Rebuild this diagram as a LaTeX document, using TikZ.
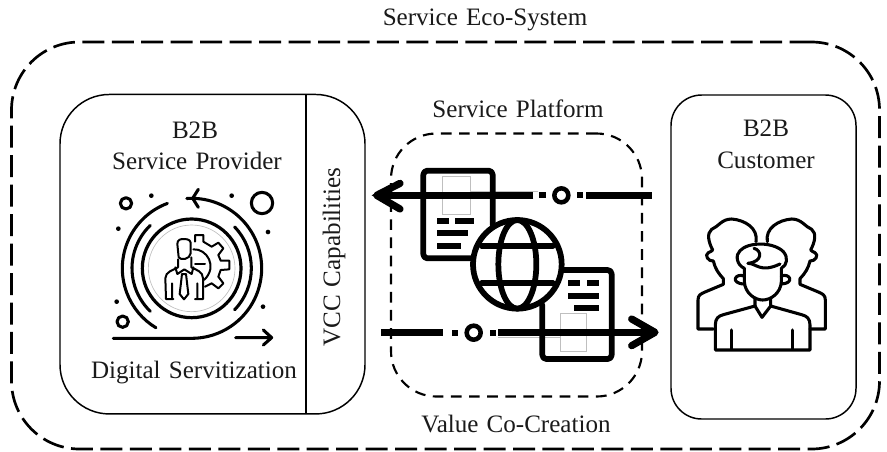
\documentclass[tikz,border=0pt]{standalone}
\usepackage{fontspec}
\setmainfont[WordSpace=1.3]{Liberation Serif}
\usetikzlibrary{calc}
\definecolor{ink}{HTML}{1A1A1A}
\tikzset{
  lab/.style={inner sep=0pt,text=ink,font=\fontsize{18.8}{22}\selectfont},
  outerdash/.style={draw=black,line width=2pt,rounded corners=51pt,dash pattern=on 16.5pt off 5.6pt,minimum width=651pt,minimum height=305.25pt,inner sep=0pt},
  middash/.style={draw=black,line width=1.6pt,rounded corners=34pt,dash pattern=on 8pt off 5.6pt,minimum width=188.25pt,minimum height=197.25pt,inner sep=0pt},
  solidbox/.style={draw=black,line width=1.1pt,inner sep=0pt},
  ico/.style={line width=2.3pt,line cap=round,line join=round},
  icothin/.style={line width=1.5pt,line cap=round,line join=round},
  pers/.style={line width=2.3pt,line cap=round,line join=round},
  heavy/.style={line width=5.4pt,line cap=butt,line join=round},
  docline/.style={line width=4.3pt,line cap=round,line join=round},
  ghost/.style={line width=.5pt,draw=black!25},
  zoomA/.style={shift={(90,170)},x=.25pt,y=-.25pt},
  zoomB/.style={shift={(370,150)},x=.25pt,y=-.25pt},
  zoomC/.style={shift={(680,200)},x=.25pt,y=-.25pt},
}
\begin{document}
\begin{tikzpicture}[x=.75pt,y=-.75pt]
\useasboundingbox (0,0) rectangle (887,451);
% containers
\node[outerdash] (eco) at (445.5,245.5) {};
\node[middash] (platform) at (516.5,265) {};
\node[solidbox,rounded corners=37pt,minimum width=228.75pt,minimum height=239.6pt] (provider) at (212.5,254.2) {};
\node[solidbox,rounded corners=23pt,minimum width=138.75pt,minimum height=243pt] (customer) at (763.5,257) {};
\coordinate (divT) at (306,94.5);
\coordinate (divB) at (306,414);
\draw[line width=1.1pt] (divT) -- (divB);
% labels
\node[lab] (tEco) at (485,20) {Service Eco-System};
\node[lab] (tPlat) at (518,108.5) {Service Platform};
\node[lab] (tVal) at (516,424) {Value Co-Creation};
\node[lab] (tB1) at (195,130) {B2B};
\node[lab] (tSP) at (197,160.5) {Service Provider};
\node[lab] (tDS) at (194,372.5) {Digital Servitization};
\node[lab,rotate=90] (tVCC) at (334,257) {VCC Capabilities};
\node[lab] (tB2) at (766,128) {B2B};
\node[lab] (tCu) at (766,160.5) {Customer};
% servitization icon
\begin{scope}[zoomA]
  \coordinate (c) at (305,295);
  \draw[ghost] (c) circle (130);
  \draw[ico,line width=2.4pt] (c) circle (148);
  \draw[ico] ([shift={(-94:210)}]c) arc[start angle=-94,end angle=90,radius=210] -- (70,505);
  \draw[ico] (325,58) -- (308,85) -- (325,112);
  \draw[ico] ([shift={(249.5:208)}]c) arc[start angle=249.5,end angle=121,radius=208];
  \draw[ico] ([shift={(226:179)}]c) arc[start angle=226,end angle=134,radius=179];
  \draw[ico] ([shift={(-44:179)}]c) arc[start angle=-44,end angle=44,radius=179];
  \draw[ico] (437,503) -- (545,503) (520,480) -- (545,503) -- (520,525);
  \draw[ico] (108,100) circle (17) (516,99) circle (32) (98,455) circle (17);
  \foreach \px/\py in {184/77,425/77,85/176,534/186,80/395,519/410}
    \fill (\px,\py) circle (7);
  \draw[icothin] (315,215) -- (315,195) -- (340,195) -- (340,215) -- (365,230) -- (385,218) -- (400,235) -- (385,255) -- (392,272) -- (418,272) -- (418,298) -- (392,300) -- (385,320) -- (400,340) -- (385,355) -- (365,340) -- (345,350);
  \draw[icothin] (310,238) .. controls (350,235) and (385,290) .. (342,330);
  \draw[icothin] (315,281) -- (345,281);
  \draw[icothin] (266,262) -- (262,222) .. controls (262,208) and (272,207) .. (282,207) .. controls (298,207) and (303,212) .. (302,225) -- (302,250) .. controls (300,268) and (272,272) .. (266,262);
  \draw[icothin] (264,268) -- (264,292) .. controls (250,300) and (226,305) .. (226,325) -- (228,387) -- (250,387) (246,340) -- (246,387);
  \draw[icothin] (304,262) -- (304,292) .. controls (320,300) and (339,305) .. (339,325) -- (339,387) -- (315,387) (322,340) -- (322,387);
  \draw[icothin] (256,292) -- (262,312) -- (283,298) -- (305,312) -- (310,292);
  \draw[icothin] (276,312) -- (269,372) -- (282,388) -- (295,372) -- (288,312) -- cycle;
\end{scope}
% platform icon
\begin{scope}[zoomB]
  \draw[ghost] (218,80) rectangle (302,193);
  \draw[ghost] (572,490) rectangle (650,605);
  \draw[ghost] (302,125) -- (505,125);
  \draw[ghost] (385,562) -- (570,562);
  \draw[docline,rounded corners=3pt] (305,325) -- (160,325) -- (160,62) -- (368,62) -- (368,225);
  \draw[docline,rounded corners=3pt] (575,360) -- (725,360) -- (725,627) -- (517,627) -- (517,465);
  \foreach \ax/\bx/\ay in {200/236/212,256/312/212,200/293/250,200/274/288,593/630/400,650/686/400,593/686/437,612/686/475}
    \fill (\ax,{\ay-9}) rectangle (\bx,{\ay+9});
  \coordinate (g) at (442,343);
  \draw[docline,fill=white] (g) circle (133);
  \draw[docline] (g) ellipse (57 and 133);
  \draw[docline] (335,287) -- (549,287) (335,400) -- (549,400);
  % connectors
  \coordinate (topR) at (845,136);
  \coordinate (topA) at (648,136);
  \coordinate (topS1) at (630,136);
  \coordinate (topC) at (574,136);
  \coordinate (topS2) at (517,136);
  \coordinate (topL) at (490,136);
  \coordinate (topTip) at (20,136);
  \draw[heavy] (topR) -- (topA);
  \draw[heavy] (topL) -- (topTip);
  \draw[heavy,line cap=round] (90,100) -- (topTip) -- (90,177);
  \fill (5,136) -- (60,105) -- (60,167) -- cycle;
  \fill ($(topS1)+(-10,-9)$) rectangle ($(topS1)+(10,9)$);
  \fill ($(topS2)+(-10,-9)$) rectangle ($(topS2)+(10,9)$);
  \draw[line width=3.4pt] (topC) circle (21);
  \coordinate (botL) at (33,547);
  \coordinate (botA) at (220,547);
  \coordinate (botS1) at (255,548);
  \coordinate (botC) at (311,548);
  \coordinate (botS2) at (369,548);
  \coordinate (botB) at (385,547);
  \coordinate (botTip) at (855,547);
  \draw[heavy] (botL) -- (botA);
  \draw[heavy] (botB) -- (botTip);
  \draw[heavy,line cap=round] (785,507) -- (botTip) -- (785,587);
  \fill ($(botS1)+(-10,-9)$) rectangle ($(botS1)+(10,9)$);
  \fill ($(botS2)+(-10,-9)$) rectangle ($(botS2)+(10,9)$);
  \draw[line width=3.4pt] (botC) circle (21);
\end{scope}
% customer icon
\begin{scope}[zoomC]
  \foreach \s/\o in {1/0,-1/490}{
    \begin{scope}[shift={(\o,0)},x=\s*.25pt]
    \draw[pers] (100,387) -- (54,387) -- (54,300) .. controls (54,285) and (62,282) .. (75,276) -- (130,253) -- (130,236) .. controls (115,220) and (105,205) .. (100,183) .. controls (85,185) and (72,165) .. (85,158) .. controls (92,153) and (95,155) .. (98,150) .. controls (85,125) and (80,100) .. (95,88) .. controls (115,80) and (125,57) .. (155,57) .. controls (195,60) and (235,85) .. (228,125);
    \end{scope}
  }
  \draw[pers] (193,205) -- (193,245) .. controls (195,280) and (225,300) .. (248,300) .. controls (272,300) and (302,280) .. (304,245) -- (304,205);
  \draw[pers] (193,205) .. controls (170,195) and (165,165) .. (180,152) .. controls (205,125) and (280,125) .. (310,155) .. controls (325,172) and (322,195) .. (304,205);
  \draw[pers] (204,190) .. controls (230,190) and (240,220) .. (300,192);
  \draw[pers] (222,145) .. controls (245,150) and (250,185) .. (204,190);
  \draw[pers] (192,228) .. controls (165,218) and (150,250) .. (192,252);
  \draw[pers] (304,228) .. controls (330,218) and (345,250) .. (304,252);
  \draw[pers] (225,295) -- (225,318) -- (130,344) .. controls (115,348) and (106,355) .. (106,375) -- (106,450) -- (390,450) -- (390,375) .. controls (390,355) and (380,348) .. (365,344) -- (272,318) -- (272,295);
  \draw[pers] (225,318) -- (246,352) -- (272,318);
  \draw[pers] (155,390) -- (155,447) (337,390) -- (337,447);
\end{scope}
\end{tikzpicture}
\end{document}
